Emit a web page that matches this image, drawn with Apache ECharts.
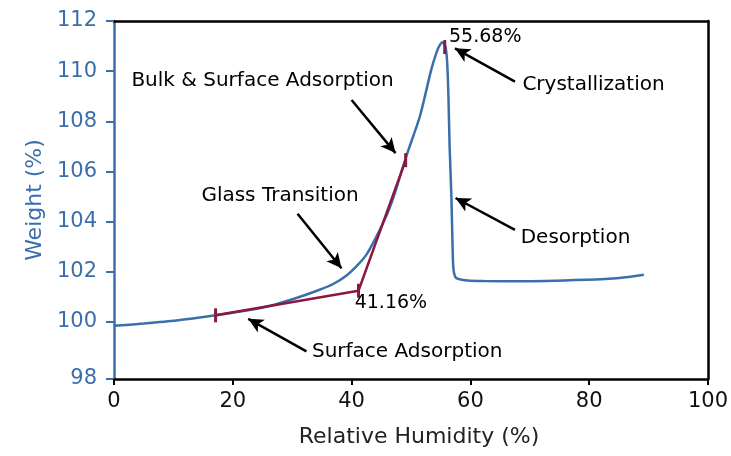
<!DOCTYPE html>
<html>
<head>
<meta charset="utf-8">
<script src="https://cdn.jsdelivr.net/npm/echarts@6/dist/echarts.min.js"></script>
<style>html,body{margin:0;padding:0;background:#fff;}#chart{width:731px;height:456px;}</style>
</head>
<body>
<div id="chart"></div>
<script>
// ---- data ----
const rh = [0, 5, 10.5, 17.1, 22.8, 26, 30.7, 34.6, 36.9, 39.1, 40.8, 42.5, 43.9, 45.3, 46.4, 47.3, 49.2, 51.5, 53.4, 54.3, 54.8, 55.3, 55.8, 56.1, 56.3, 56.5, 56.8, 57.0, 57.15, 57.6, 59.6, 62.4, 68.1, 79.5, 85.1, 89.2];
const weight = [99.84, 99.93, 100.05, 100.26, 100.47, 100.62, 100.95, 101.28, 101.51, 101.84, 102.21, 102.68, 103.27, 103.94, 104.54, 105.14, 106.6, 108.2, 110.05, 110.75, 111.02, 111.15, 110.98, 110.3, 109.0, 107.0, 105.0, 103.0, 102.1, 101.75, 101.65, 101.63, 101.62, 101.68, 101.75, 101.88];
const tangentRH = [17.1, 41.16, 49.1];
const tangentW = [100.26, 101.24, 106.45];
const markerRH = [17.1, 41.16, 49.1, 55.68];
const markerW = [100.26, 101.24, 106.45, 110.96];
const xTickValues = [0, 20, 40, 60, 80, 100];
const yMin = 97.72, yMax = 112;
const yTickValues = [yMin, 100, 102, 104, 106, 108, 110, 112];
const labelTexts = ['Bulk & Surface Adsorption', 'Glass Transition', 'Surface Adsorption', 'Crystallization', 'Desorption', '55.68%', '41.16%'];
const labelRH = [2.93, 14.71, 33.33, 68.75, 68.47, 56.4, 40.52];
const labelW = [109.63, 105.03, 98.81, 109.45, 103.34, 111.34, 100.75];
const arrowFrom = [[40.0, 108.85], [30.9, 104.31], [32.4, 98.82], [67.5, 109.58], [67.5, 103.67]];
const arrowTo = [[47.4, 106.73], [38.3, 102.14], [22.6, 100.12], [57.4, 110.91], [57.5, 104.94]];

// ---- styling ----
const BLUE = '#3a6fab';
const RED = '#8a1840';
const FONT = 'DejaVu Sans';

const chart = echarts.init(document.getElementById('chart'), null, {renderer: 'canvas'});
const zip = (a, b) => a.map((v, i) => [v, b[i]]);

chart.setOption({
  animation: false,
  backgroundColor: '#ffffff',
  textStyle: {fontFamily: FONT},
  grid: {left: 114, right: 23, top: 21, bottom: 77, containLabel: false, outerBoundsMode: 'none'},
  xAxis: [{
    type: 'value', min: 0, max: 100, interval: 20, position: 'bottom',
    axisLine: {show: true, onZero: false, lineStyle: {color: '#000', width: 2.5}},
    axisTick: {show: true, length: 6, lineStyle: {color: '#000', width: 2}},
    axisLabel: {color: '#111', fontSize: 21, margin: 12, fontFamily: FONT},
    splitLine: {show: false},
    name: 'Relative Humidity (%)', nameLocation: 'middle', nameGap: 47,
    nameTextStyle: {color: '#222', fontSize: 22, fontFamily: FONT, padding: [0, 0, 0, 16]}
  }, {
    type: 'value', min: 0, max: 100, position: 'top',
    axisLine: {show: true, onZero: false, lineStyle: {color: '#000', width: 2.5}},
    axisTick: {show: false}, axisLabel: {show: false}, splitLine: {show: false}
  }],
  yAxis: [{
    type: 'value', min: yMin, max: yMax, position: 'left',
    axisLine: {show: true, onZero: false, lineStyle: {color: BLUE, width: 2.5}},
    axisTick: {show: true, length: 8, customValues: yTickValues, lineStyle: {color: BLUE, width: 2}},
    axisLabel: {customValues: yTickValues, formatter: v => String(Math.round(v)), color: BLUE, fontSize: 21, margin: 17, fontFamily: FONT, showMinLabel: true, showMaxLabel: true},
    splitLine: {show: false},
    name: 'Weight (%)', nameLocation: 'middle', nameGap: 63,
    nameTextStyle: {color: BLUE, fontSize: 22, fontFamily: FONT}
  }, {
    type: 'value', min: yMin, max: yMax, position: 'right',
    axisLine: {show: true, onZero: false, lineStyle: {color: '#000', width: 2.5}},
    axisTick: {show: false}, axisLabel: {show: false}, splitLine: {show: false}
  }],
  series: [{
    name: 'Weight', type: 'line', xAxisIndex: 0, yAxisIndex: 0,
    data: zip(rh, weight), showSymbol: false, smooth: 0.25,
    lineStyle: {color: BLUE, width: 2.5}, z: 2
  }, {
    name: 'Tangent', type: 'line', xAxisIndex: 0, yAxisIndex: 0,
    data: zip(tangentRH, tangentW), showSymbol: false, smooth: false,
    lineStyle: {color: RED, width: 2.5}, z: 3,
    markLine: {
      silent: true, symbol: ['none', 'arrow'], symbolSize: [11, 15],
      lineStyle: {color: '#000', width: 2.5, type: 'solid', opacity: 1},
      label: {show: false},
      data: arrowFrom.map((f, i) => [{coord: f}, {coord: arrowTo[i]}])
    }
  }, {
    name: 'Markers', type: 'scatter', xAxisIndex: 0, yAxisIndex: 0,
    data: zip(markerRH, markerW), symbol: 'rect', symbolSize: [3, 14],
    itemStyle: {color: RED, opacity: 1}, z: 4
  }, {
    name: 'Labels', type: 'scatter', xAxisIndex: 0, yAxisIndex: 0,
    symbolSize: 0, silent: true, z: 5,
    itemStyle: {opacity: 1},
    data: labelTexts.map((t, i) => ({
      name: t, value: [labelRH[i], labelW[i]],
      label: {fontSize: t.indexOf('%') >= 0 ? 19 : 20}
    })),
    label: {show: true, position: 'right', distance: 0, formatter: p => p.name, color: '#000', opacity: 1, fontFamily: FONT, fontSize: 20}
  }]
});
</script>
</body>
</html>
